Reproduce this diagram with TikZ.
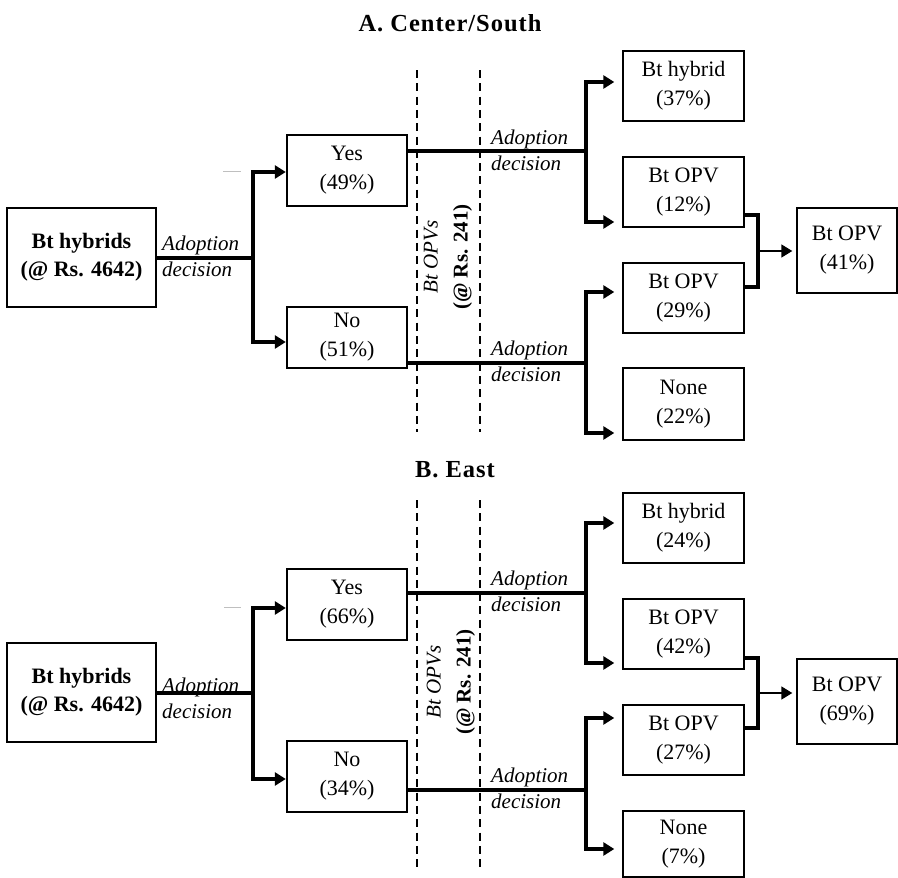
\documentclass[tikz,border=0pt]{standalone}
\usepackage{fontspec}
\setmainfont{Liberation Serif}
\usetikzlibrary{arrows.meta,calc}
\tikzset{
 box/.style={draw, line width=1.4pt, align=center, inner sep=0pt, font=\fontsize{22}{29}\selectfont},
 bbox/.style={box, font=\fontsize{22}{28}\selectfont\bfseries},
 conn/.style={line width=3.2pt},
 arr/.style={conn, -{Triangle[length=11pt,width=13pt]}, shorten >=0.5pt},
 arrgap/.style={conn, -{Triangle[length=11pt,width=13pt]}, shorten >=8pt},
 tarr/.style={line width=1.7pt, -{Triangle[length=11pt,width=13pt]}, shorten >=4pt},
 lbl/.style={font=\fontsize{21}{26}\selectfont\itshape, align=left, anchor=west, inner sep=0pt},
 dashline/.style={line width=1.5pt, dash pattern=on 8pt off 5.3pt},
 ttl/.style={font=\fontsize{24.5}{28}\selectfont\bfseries\addfontfeature{LetterSpace=4}},
 vtext/.style={rotate=90, align=center, inner sep=0pt, font=\fontsize{21}{30}\selectfont},
 faint/.style={draw=black!25, line width=0.8pt}
}
\begin{document}
\begin{tikzpicture}[x=1pt,y=-1pt]
\useasboundingbox (0,0) rectangle (898,878);
% ---------- Panel A ----------
\node[ttl] (tA) at (450,23) {A. Center/South};
\node[bbox, minimum width=149pt, minimum height=99pt] (hybA) at (81.5,257.5) {Bt hybrids\\(@ Rs. 4642)};
\node[box, minimum width=120pt, minimum height=71pt] (yesA) at (347,170.5) {Yes\\(49\%)};
\node[box, minimum width=120pt, minimum height=61pt] (noA) at (347,337.5) {No\\(51\%)};
\node[box, minimum width=121pt, minimum height=70pt] (r1A) at (683.5,86) {Bt hybrid\\(37\%)};
\node[box, minimum width=121pt, minimum height=70pt] (r2A) at (683.5,192) {Bt OPV\\(12\%)};
\node[box, minimum width=121pt, minimum height=70pt] (r3A) at (683.5,298) {Bt OPV\\(29\%)};
\node[box, minimum width=121pt, minimum height=72pt] (r4A) at (683.5,404) {None\\(22\%)};
\node[box, minimum width=100pt, minimum height=85pt] (mA) at (847,250.5) {Bt OPV\\(41\%)};

\coordinate (dA1t) at (417,70); \coordinate (dA1b) at (417,432);
\coordinate (dA2t) at (480,70); \coordinate (dA2b) at (480,432);
\draw[dashline] (dA1t) -- (dA1b);
\draw[dashline] (dA2t) -- (dA2b);
\node[vtext] (vA) at (448,257) {{\itshape Bt OPVs}\\{\bfseries (@ Rs. 241)}};

\coordinate (gA1) at (223,171); \coordinate (gA2) at (241,171);
\draw[faint] (gA1) -- (gA2);

\coordinate (jA) at (253,258);
\draw[conn] (hybA.east |- jA) -- (jA);
\draw[arr] (jA) |- ($(yesA.west)+(0,1.5)$);
\draw[arr] (jA) |- ($(noA.west)+(0,4.5)$);

\coordinate (kA) at (586,151);
\draw[conn] (yesA.east |- kA) -- (kA);
\draw[arrgap] (kA) |- ($(r1A.west)+(0,-4)$);
\draw[arrgap] (kA) |- ($(r2A.west)+(0,30)$);

\coordinate (lA) at (586,363);
\draw[conn] (noA.east |- lA) -- (lA);
\draw[arrgap] (lA) |- ($(r3A.west)+(0,-6)$);
\draw[arrgap] (lA) |- ($(r4A.west)+(0,29)$);

\coordinate (bA) at (758,251);
\draw[conn] ($(r2A.east)+(0,23)$) -- (bA |- {$(r2A.east)+(0,23)$}) -- (bA |- {$(r3A.east)+(0,-11)$}) -- ($(r3A.east)+(0,-11)$);
\draw[tarr] (bA) -- (mA.west |- bA);

\node[lbl] (aA1) at (162,256) {Adoption\\decision};
\node[lbl] (aA2) at (491,150) {Adoption\\decision};
\node[lbl] (aA3) at (491,361.5) {Adoption\\decision};

% ---------- Panel B ----------
\node[ttl] (tB) at (455,470) {B. East};
\node[bbox, minimum width=149pt, minimum height=99pt] (hybB) at (81.5,692.5) {Bt hybrids\\(@ Rs. 4642)};
\node[box, minimum width=120pt, minimum height=71pt] (yesB) at (347,604.5) {Yes\\(66\%)};
\node[box, minimum width=120pt, minimum height=71pt] (noB) at (347,776.5) {No\\(34\%)};
\node[box, minimum width=121pt, minimum height=70pt] (r1B) at (683.5,528) {Bt hybrid\\(24\%)};
\node[box, minimum width=121pt, minimum height=70pt] (r2B) at (683.5,634) {Bt OPV\\(42\%)};
\node[box, minimum width=121pt, minimum height=70pt] (r3B) at (683.5,740) {Bt OPV\\(27\%)};
\node[box, minimum width=121pt, minimum height=66pt] (r4B) at (683.5,844) {None\\(7\%)};
\node[box, minimum width=100pt, minimum height=85pt] (mB) at (847,701.5) {Bt OPV\\(69\%)};

\coordinate (dB1t) at (417,500); \coordinate (dB1b) at (417,867);
\coordinate (dB2t) at (480,500); \coordinate (dB2b) at (480,867);
\draw[dashline] (dB1t) -- (dB1b);
\draw[dashline] (dB2t) -- (dB2b);
\node[vtext] (vB) at (451,682) {{\itshape Bt OPVs}\\{\bfseries (@ Rs. 241)}};

\coordinate (gB1) at (224,607); \coordinate (gB2) at (241,607);
\draw[faint] (gB1) -- (gB2);

\coordinate (jB) at (253,693);
\draw[conn] (hybB.east |- jB) -- (jB);
\draw[arr] (jB) |- ($(yesB.west)+(0,3.5)$);
\draw[arr] (jB) |- ($(noB.west)+(0,2.5)$);

\coordinate (kB) at (586,593);
\draw[conn] (yesB.east |- kB) -- (kB);
\draw[arrgap] (kB) |- ($(r1B.west)+(0,-5)$);
\draw[arrgap] (kB) |- ($(r2B.west)+(0,29)$);

\coordinate (lB) at (586,790);
\draw[conn] (noB.east |- lB) -- (lB);
\draw[arrgap] (lB) |- ($(r3B.west)+(0,-22)$);
\draw[arrgap] (lB) |- ($(r4B.west)+(0,5)$);

\coordinate (bB) at (758,693);
\draw[conn] ($(r2B.east)+(0,24)$) -- (bB |- {$(r2B.east)+(0,24)$}) -- (bB |- {$(r3B.east)+(0,-12)$}) -- ($(r3B.east)+(0,-12)$);
\draw[tarr] (bB) -- (mB.west |- bB);

\node[lbl] (aB1) at (162,698) {Adoption\\decision};
\node[lbl] (aB2) at (491,591.5) {Adoption\\decision};
\node[lbl] (aB3) at (491,788.5) {Adoption\\decision};
\end{tikzpicture}
\end{document}
